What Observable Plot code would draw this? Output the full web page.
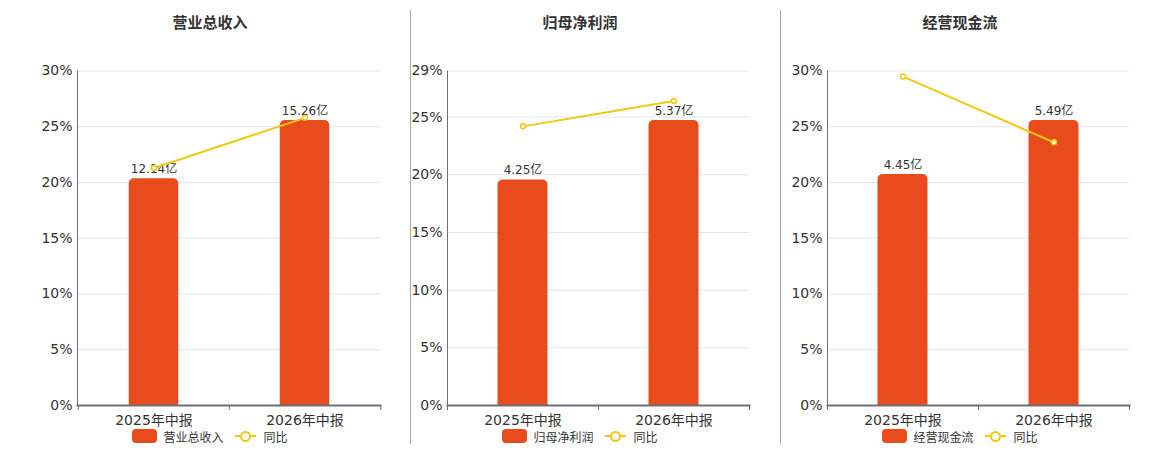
<!DOCTYPE html>
<html><head><meta charset="utf-8">
<script src="https://cdn.jsdelivr.net/npm/d3@7"></script>
<script src="https://cdn.jsdelivr.net/npm/@observablehq/plot@0.6"></script>
<style>
body{margin:0;background:#fff;font-family:"DejaVu Sans","Noto Sans CJK SC",sans-serif;}
#root{position:relative;width:1160px;height:450px;overflow:hidden;background:#fff;}
.abs{position:absolute;}
.title{font-size:15px;font-weight:bold;color:#333;text-align:center;width:240px;line-height:20px;top:13px;}
.legend{display:flex;align-items:center;justify-content:center;width:300px;top:428px;height:16px;font-size:12px;color:#333;white-space:nowrap;}
.sw-bar{width:25px;height:14px;border-radius:4px;margin-right:6px;}
.sw-line{position:relative;width:21px;height:14px;margin-left:11px;margin-right:8px;}
.sw-line .ln{position:absolute;left:0;right:0;top:6px;height:2px;}
.sw-line .ci{position:absolute;left:5px;top:1.5px;width:7px;height:7px;border-radius:50%;background:#fff;border-width:2px;border-style:solid;}
.sep{width:1px;background:#aaa;top:10px;height:434px;}
</style></head><body><div id="root"></div>
<script>
// ---- data ----
const periods = ["2025年中报", "2026年中报"];
const panelTitles = ["营业总收入", "归母净利润", "经营现金流"];
const revenueAmounts = [12.14, 15.26];
const netProfitAmounts = [4.25, 5.37];
const cashFlowAmounts = [4.45, 5.49];
const revenueYoY = [21.3, 25.8];
const netProfitYoY = [24.2, 26.4];
const cashFlowYoY = [29.5, 23.6];
const revenueTicks = [0, 5, 10, 15, 20, 25, 30];
const netProfitTicks = [0, 5, 10, 15, 20, 25, 29];
const cashFlowTicks = [0, 5, 10, 15, 20, 25, 30];
const amountUnit = "亿";
const yoyName = "同比";

// ---- style / layout ----
const barColor = "#e84c1d";
const lineColor = "#f2c811";
const axisColor = "#6e7079";
const gridColor = "#e0e6f1";
const textColor = "#333";
const fontFamily = '"DejaVu Sans","Noto Sans CJK SC",sans-serif';
const barTopShare = 0.852;
const layouts = [
  {svgLeft: 0, plotLeft: 77, plotRight: 380, center: 210},
  {svgLeft: 411, plotLeft: 447, plotRight: 749, center: 580},
  {svgLeft: 781, plotLeft: 827, plotRight: 1129, center: 960}
];
const separators = [410, 780];

const panels = [
  {title: panelTitles[0], amounts: revenueAmounts, yoy: revenueYoY, ticks: revenueTicks},
  {title: panelTitles[1], amounts: netProfitAmounts, yoy: netProfitYoY, ticks: netProfitTicks},
  {title: panelTitles[2], amounts: cashFlowAmounts, yoy: cashFlowYoY, ticks: cashFlowTicks}
];

const root = document.getElementById("root");

function makePanel(cfg, lay) {
  const yMax = d3.max(cfg.ticks);
  const barAxisMax = d3.max(cfg.amounts) / barTopShare;
  const data = periods.map((p, i) => ({
    period: p, amount: cfg.amounts[i], yoy: cfg.yoy[i],
    barY: cfg.amounts[i] / barAxisMax * yMax
  }));
  const half = (lay.plotRight - lay.plotLeft) / periods.length / 2;
  const svgWidth = lay.plotRight + 10 - lay.svgLeft;
  return Plot.plot({
    width: svgWidth, height: 395,
    marginLeft: lay.plotLeft - lay.svgLeft, marginRight: 10,
    marginTop: 20.5, marginBottom: 40,
    style: {fontFamily, fontSize: "14px", color: textColor, background: "transparent", overflow: "visible"},
    x: {domain: periods, padding: 0, axis: null},
    y: {domain: [0, yMax], axis: null},
    marks: [
      Plot.gridY(cfg.ticks, {stroke: gridColor, strokeOpacity: 1}),
      Plot.barY(data, {x: "period", y: "barY", fill: barColor, insetLeft: half - 25, insetRight: half - 25, ry1: 5}),
      Plot.text(data, {x: "period", y: "barY", text: d => d.amount.toFixed(2) + amountUnit, dy: -9.5, fontSize: 12, fill: textColor}),
      Plot.line(data, {x: "period", y: "yoy", stroke: lineColor, strokeWidth: 2}),
      Plot.dot(data, {x: "period", y: "yoy", r: 2.5, fill: "#fff", stroke: lineColor, strokeWidth: 1.5}),
      Plot.frame({anchor: "left", stroke: axisColor, strokeOpacity: 1}),
      Plot.frame({anchor: "bottom", stroke: axisColor, strokeWidth: 2, strokeOpacity: 1}),
      Plot.ruleX(data, {x: "period", y1: 0, y2: 0, dx: -half, insetBottom: -5, stroke: axisColor}),
      Plot.ruleX(data.slice(-1), {x: "period", y1: 0, y2: 0, dx: half, insetBottom: -5, stroke: axisColor}),
      Plot.axisY({ticks: cfg.ticks, tickSize: 0, tickPadding: 5, tickFormat: d => d + "%", fontSize: 14, fill: textColor, label: null}),
      Plot.axisX({tickSize: 0, tickPadding: 10, fontSize: 14, fill: textColor, label: null})
    ]
  });
}

panels.forEach((cfg, k) => {
  const lay = layouts[k];
  const svg = makePanel(cfg, lay);
  svg.classList.add("abs");
  svg.style.left = lay.svgLeft + "px";
  svg.style.top = "50px";
  root.appendChild(svg);

  const t = document.createElement("div");
  t.className = "abs title";
  t.style.left = (lay.center - 120) + "px";
  t.textContent = cfg.title;
  root.appendChild(t);

  const lg = document.createElement("div");
  lg.className = "abs legend";
  lg.style.left = (lay.center - 150) + "px";
  lg.innerHTML = `<span class="sw-bar" style="background:${barColor}"></span><span>${cfg.title}</span>` +
    `<span class="sw-line"><span class="ln" style="background:${lineColor}"></span><span class="ci" style="border-color:${lineColor}"></span></span><span>${yoyName}</span>`;
  root.appendChild(lg);
});

separators.forEach(x => {
  const s = document.createElement("div");
  s.className = "abs sep";
  s.style.left = x + "px";
  root.appendChild(s);
});
</script>
</body></html>
